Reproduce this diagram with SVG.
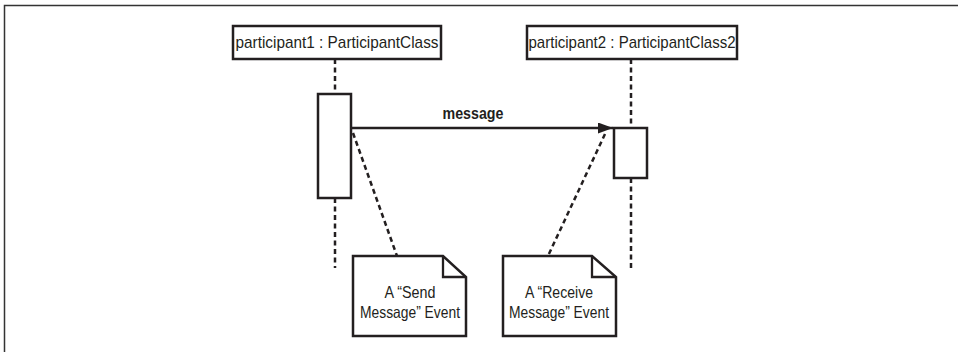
<svg xmlns="http://www.w3.org/2000/svg" width="959" height="352" viewBox="0 0 959 352">
<style>
.box{fill:#fff;stroke:#231f20;stroke-width:2.5}
.dash{fill:none;stroke:#231f20;stroke-width:2.5;stroke-dasharray:5 3.5}
.line{fill:none;stroke:#231f20;stroke-width:2.3}
.t{font-family:"Liberation Sans",Arial,sans-serif;fill:#231f20;text-anchor:middle}
.hdr{font-size:17px}
.note{font-size:16.5px}
.msg{font-size:17px;font-weight:bold}
</style>
<defs>
<marker id="arr" markerWidth="16" markerHeight="12" refX="15" refY="5.5" orient="auto" markerUnits="userSpaceOnUse">
<path d="M0,0 L15,5.5 L0,11 Z" fill="#231f20"/>
</marker>
</defs>
<path d="M4.5,352 V5.5 H958" fill="none" stroke="#333" stroke-width="1.5"/>
<g id="connectors">
<line class="dash" x1="335" y1="59" x2="335" y2="94"/>
<line class="dash" x1="335" y1="198" x2="335" y2="268"/>
<line class="dash" x1="631" y1="59" x2="631" y2="128"/>
<line class="dash" x1="631" y1="178" x2="631" y2="268"/>
<line class="line" x1="351" y1="128" x2="613" y2="128" marker-end="url(#arr)"/>
<text class="t msg" x="473" y="119" textLength="61" lengthAdjust="spacingAndGlyphs">message</text>
<line class="dash" x1="353" y1="133" x2="397" y2="256"/>
<line class="dash" x1="605" y1="134" x2="548" y2="256"/>
</g>
<g id="participant1">
<rect class="box" x="233" y="26" width="208" height="33"/>
<text class="t hdr" x="337" y="48" textLength="203" lengthAdjust="spacingAndGlyphs">participant1 : ParticipantClass</text>
</g>
<g id="participant2">
<rect class="box" x="527" y="26" width="210" height="33"/>
<text class="t hdr" x="632" y="48" textLength="207" lengthAdjust="spacingAndGlyphs">participant2 : ParticipantClass2</text>
</g>
<g id="activation1">
<rect class="box" x="318" y="94" width="33" height="104"/>
</g>
<g id="activation2">
<rect class="box" x="614" y="128" width="33" height="50"/>
</g>
<g id="note1">
<path class="box" d="M353,256 H443 L466,277 V336 H353 Z"/>
<path class="line" d="M443,256 V277 H466"/>
<text class="t note" x="410" y="298" textLength="51" lengthAdjust="spacingAndGlyphs">A “Send</text>
<text class="t note" x="410" y="318" textLength="100" lengthAdjust="spacingAndGlyphs">Message” Event</text>
</g>
<g id="note2">
<path class="box" d="M503,256 H592 L616,277 V336 H503 Z"/>
<path class="line" d="M592,256 V277 H616"/>
<text class="t note" x="559" y="298" textLength="68" lengthAdjust="spacingAndGlyphs">A “Receive</text>
<text class="t note" x="559" y="318" textLength="100" lengthAdjust="spacingAndGlyphs">Message” Event</text>
</g>
</svg>
